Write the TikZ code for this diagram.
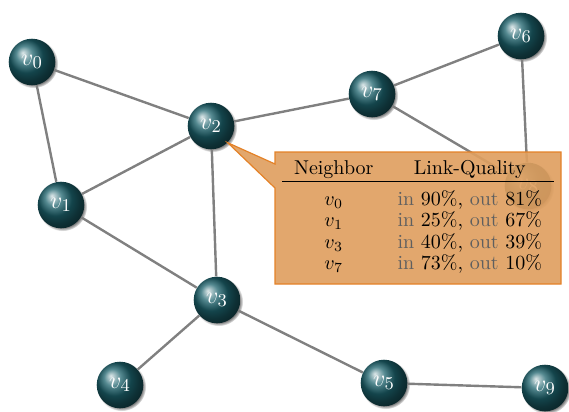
\documentclass[tikz,border=0pt]{standalone}
\usetikzlibrary{shadows,shapes.callouts,backgrounds}
\definecolor{ballc}{RGB}{28,98,108}
\definecolor{edgec}{RGB}{128,128,128}
\definecolor{callfill}{RGB}{223,160,97}
\definecolor{calldraw}{RGB}{228,130,40}
\definecolor{lblgray}{RGB}{95,95,95}
\newcommand\gtxt[1]{\textcolor{lblgray}{#1}}
\begin{document}
\begin{tikzpicture}[x=0.5pt,y=-0.5pt,
  ballnode/.style={circle, shading=ball, ball color=ballc, minimum size=23.3pt,
    inner sep=0pt, text=white, font=\fontsize{13}{15}\selectfont,
    circular drop shadow={shadow xshift=0.8pt, shadow yshift=-0.8pt, shadow scale=1.05}},
  link/.style={draw=edgec, line width=1.2pt},
  calloutbox/.style={rectangle callout, fill=callfill, fill opacity=0.92,
    text opacity=1, draw=calldraw, line width=0.6pt, minimum width=143pt,
    minimum height=66pt, inner sep=0pt, callout pointer width=12pt}]
\useasboundingbox (0,0) rectangle (569,412);
\node[ballnode] (v0) at (32,62) {$v_0$};
\node[ballnode] (v1) at (61,205) {$v_1$};
\node[ballnode] (v2) at (211,126) {$v_2$};
\node[ballnode] (v3) at (217,300) {$v_3$};
\node[ballnode] (v4) at (120,385) {$v_4$};
\node[ballnode] (v5) at (384,383) {$v_5$};
\node[ballnode] (v6) at (521,36) {$v_6$};
\node[ballnode] (v7) at (372,94) {$v_7$};
\node[ballnode] (v8) at (528,186) {$v_8$};
\node[ballnode] (v9) at (545,388) {$v_9$};
\begin{scope}[on background layer]
\draw[link] (v0) -- (v1);
\draw[link] (v0) -- (v2);
\draw[link] (v1) -- (v2);
\draw[link] (v1) -- (v3);
\draw[link] (v2) -- (v3);
\draw[link] (v2) -- (v7);
\draw[link] (v3) -- (v4);
\draw[link] (v3) -- (v5);
\draw[link] (v5) -- (v9);
\draw[link] (v7) -- (v6);
\draw[link] (v7) -- (v8);
\draw[link] (v6) -- (v8);
\end{scope}
\node[calloutbox, callout absolute pointer={(v2.south east)}] (tbl) at (418,218)
{\renewcommand\arraystretch{0.9}%
\begin{tabular}{cc}
Neighbor & Link-Quality\\ \hline\noalign{\vskip 4pt}
$v_0$ & \gtxt{in} 90\%, \gtxt{out} 81\%\\
$v_1$ & \gtxt{in} 25\%, \gtxt{out} 67\%\\
$v_3$ & \gtxt{in} 40\%, \gtxt{out} 39\%\\
$v_7$ & \gtxt{in} 73\%, \gtxt{out} 10\%
\end{tabular}};
\end{tikzpicture}
\end{document}
